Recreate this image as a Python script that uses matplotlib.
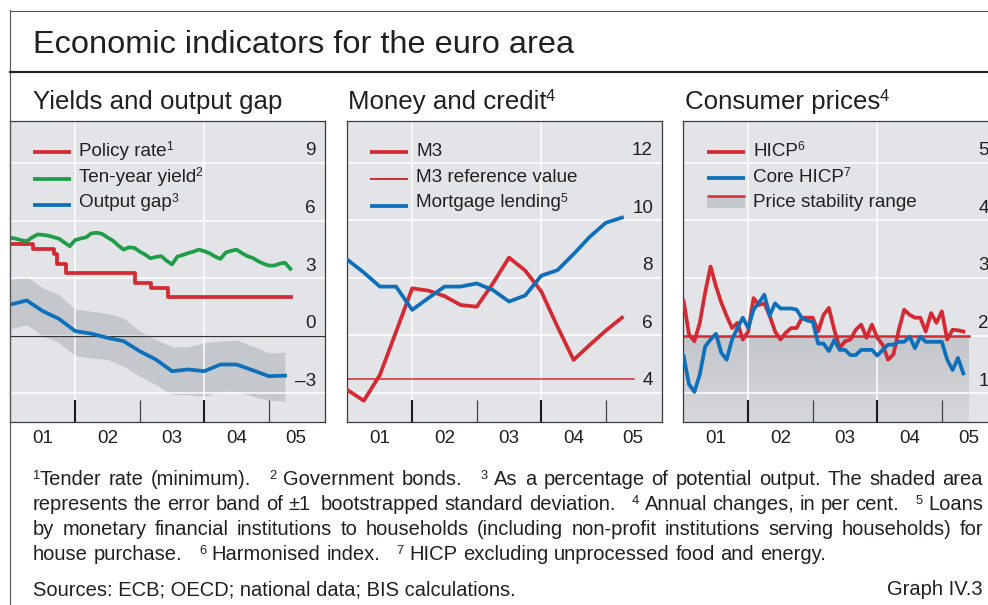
import re
import numpy as np
import matplotlib
matplotlib.use('Agg')
import matplotlib.pyplot as plt
from matplotlib.lines import Line2D
from matplotlib.patches import Rectangle
from matplotlib.colors import LinearSegmentedColormap

plt.rcParams['font.family'] = ['Liberation Sans', 'DejaVu Sans']

# ---------------- data ----------------
year_labels = ['01', '02', '03', '04', '05']
year_label_pos = [2001.5, 2002.5, 2003.5, 2004.5, 2005.42]
year_ticks = [2002, 2003, 2004, 2005]

# Panel 1: Yields and output gap
policy_dates = [2001.0, 2001.35, 2001.67, 2001.72, 2001.86, 2002.93, 2003.18, 2003.43, 2005.35]
policy_rates = [4.75, 4.50, 4.25, 3.75, 3.25, 2.75, 2.50, 2.00, 2.00]

months = 2001 + np.arange(53) / 12.0
ten_year_yield = [5.10, 5.05, 4.97, 4.92, 5.12, 5.27, 5.25, 5.21, 5.13, 5.05, 4.85, 4.66,
                  4.98, 5.06, 5.12, 5.33, 5.36, 5.30, 5.12, 4.95, 4.70, 4.48, 4.60, 4.57,
                  4.38, 4.22, 4.03, 4.10, 4.14, 3.90, 3.71, 4.12, 4.20, 4.30, 4.38, 4.48,
                  4.40, 4.29, 4.12, 4.00, 4.33, 4.42, 4.48, 4.30, 4.14, 4.05, 3.88, 3.75,
                  3.65, 3.65, 3.75, 3.80, 3.48]

quarters = 2001 + np.arange(18) / 4.0
output_gap = [1.62, 1.83, 1.27, 0.87, 0.23, 0.10, -0.12, -0.29, -0.82, -1.25, -1.86, -1.77,
              -1.86, -1.51, -1.51, -1.81, -2.12, -2.09]
gap_upper = [2.92, 3.09, 2.48, 2.13, 1.38, 1.27, 1.15, 0.92, 0.23, -0.21, -0.59, -0.59,
             -0.38, -0.29, -0.24, -0.56, -0.90, -0.87]
gap_lower = [0.35, 0.57, -0.03, -0.38, -1.04, -1.17, -1.25, -1.60, -2.12, -2.56, -3.08, -3.08,
             -3.17, -2.91, -2.91, -3.17, -3.38, -3.43]

# Panel 2: Money and credit
m3_growth = [4.10, 3.73, 4.63, 6.13, 7.64, 7.56, 7.37, 7.06, 7.00, 7.81, 8.71, 8.26,
             7.53, 6.31, 5.15, 5.67, 6.17, 6.62]
mortgage_lending = [8.63, 8.19, 7.70, 7.70, 6.89, 7.30, 7.70, 7.70, 7.81, 7.58, 7.18, 7.39,
                    8.08, 8.27, 8.83, 9.43, 9.92, 10.10]
m3_reference_value = 4.5
m3_reference_span = [2001.0, 2005.43]

# Panel 3: Consumer prices
hicp = [2.60, 2.02, 1.90, 2.22, 2.75, 3.20, 2.86, 2.57, 2.34, 2.13, 2.22, 1.93,
        2.07, 2.65, 2.53, 2.56, 2.34, 2.07, 1.93, 2.05, 2.13, 2.13, 2.31, 2.31,
        2.31, 2.07, 2.36, 2.48, 2.10, 1.78, 1.90, 1.93, 2.10, 2.19, 1.96, 2.19,
        1.96, 1.84, 1.58, 1.67, 2.10, 2.45, 2.36, 2.31, 2.31, 2.07, 2.39, 2.22,
        2.42, 1.93, 2.10, 2.09, 2.07]
core_hicp = [1.64, 1.15, 1.02, 1.32, 1.81, 1.93, 2.03, 1.70, 1.58, 1.93, 2.13, 2.31,
             2.13, 2.45, 2.57, 2.71, 2.35, 2.56, 2.47, 2.47, 2.47, 2.45, 2.30, 2.26,
             2.24, 1.86, 1.86, 1.73, 1.92, 1.75, 1.75, 1.66, 1.66, 1.75, 1.75, 1.75,
             1.65, 1.75, 1.84, 1.84, 1.89, 1.89, 1.98, 1.78, 1.98, 1.89, 1.89, 1.89,
             1.89, 1.58, 1.40, 1.61, 1.34]
price_stability_ceiling = 2.0
price_stability_span = [2000.9, 2005.42]

p1_ticks = [9, 6, 3, 0, -3]
p1_ticklabels = ['9', '6', '3', '0', '\u20133']
p2_ticks = [12, 10, 8, 6, 4]
p3_ticks = [5, 4, 3, 2, 1]

title = 'Economic indicators for the euro area'
panel_titles = ['Yields and output gap', 'Money and credit\u2074', 'Consumer prices\u2074']
legend1 = ['Policy rate\u00b9', 'Ten-year yield\u00b2', 'Output gap\u00b3']
legend2 = ['M3', 'M3 reference value', 'Mortgage lending\u2075']
legend3 = ['HICP\u2076', 'Core HICP\u2077', 'Price stability range']
footnotes = [
    '\u00b9Tender rate (minimum).   \u00b2 Government bonds.   \u00b3 As a percentage of potential output. The shaded area',
    'represents the error band of \u00b11  bootstrapped standard deviation.   \u2074 Annual changes, in per cent.   \u2075 Loans',
    'by monetary financial institutions to households (including non-profit institutions serving households) for',
    'house purchase.   \u2076 Harmonised index.   \u2077 HICP excluding unprocessed food and energy.',
]
sources = 'Sources: ECB; OECD; national data; BIS calculations.'
graph_id = 'Graph IV.3'

# ---------------- style ----------------
W, H = 988, 605
RED = '#d42a33'
GREEN = '#1f9d49'
BLUE = '#0e6fba'
BG = '#e3e4e7'
BAND = '#c4c7cc'
TXT = '#231f20'
FRAME = '#3a3a3a'
LW = 2.7
SUP = {'\u00b9': '1', '\u00b2': '2', '\u00b3': '3', '\u2074': '4',
       '\u2075': '5', '\u2076': '6', '\u2077': '7'}
SUP_SCALE = 0.64
SUP_GAP = -0.5

fig = plt.figure(figsize=(W / 100, H / 100), dpi=100)
fig.patch.set_facecolor('white')
renderer = fig.canvas.get_renderer()


def fx(px):
    return px / W


def fy(py):
    return 1 - py / H


def text_width(s, size):
    t = fig.text(0, 0, s, fontsize=size)
    w = t.get_window_extent(renderer).width
    t.remove()
    return w


def runs(s):
    out = []
    for ch in s:
        sup = ch in SUP
        c = SUP.get(ch, ch)
        if out and out[-1][1] == sup:
            out[-1][0] += c
        else:
            out.append([c, sup])
    return out


def rich_width(s, size):
    w = 0
    rs = runs(s)
    for i, (t, sup) in enumerate(rs):
        w += text_width(t, size * SUP_SCALE if sup else size)
        if i < len(rs) - 1:
            w += SUP_GAP
    return w


def draw_rich(x, yb, s, size, ha='left'):
    if ha == 'right':
        x -= rich_width(s, size)
    rs = runs(s)
    for i, (t, sup) in enumerate(rs):
        sz = size * SUP_SCALE if sup else size
        raise_px = 0.29 * size * 100 / 72 if sup else 0
        fig.text(fx(x), fy(yb - raise_px), t, fontsize=sz, color=TXT, va='baseline', ha='left')
        x += text_width(t, sz)
        if i < len(rs) - 1:
            x += SUP_GAP


def fit_size(s, target, ref=20.0):
    return ref * target / rich_width(s, ref)


XLIM = (2000.99, 2005.87)
AX_TOP, AX_BOT, AX_W = 121, 422, 315


def make_ax(left, ylim, ticks, labels, tick_size):
    ax = fig.add_axes([fx(left), fy(AX_BOT), AX_W / W, (AX_BOT - AX_TOP) / H])
    ax.set_facecolor(BG)
    ax.set_xlim(*XLIM)
    ax.set_ylim(*ylim)
    ax.set_xticks([])
    ax.set_yticks([])
    for s in ax.spines.values():
        s.set_color(FRAME)
        s.set_linewidth(0.9)
    for v in ticks:
        ax.axhline(v, color='white', lw=1.1, zorder=1)
    for yr in (2002, 2004):
        ax.axvline(yr, color='white', lw=1.1, zorder=1)
    tr = ax.get_xaxis_transform()
    for yr in year_ticks:
        thick = yr in (2002, 2004)
        ax.plot([yr, yr], [0, 22 / (AX_BOT - AX_TOP)], transform=tr,
                color='#1a1a1a' if thick else '#444444', lw=1.5 if thick else 0.9,
                solid_capstyle='butt', zorder=3)
    for v, lab in zip(ticks, labels):
        ax.annotate(lab, xy=(1, v), xycoords=('axes fraction', 'data'),
                    xytext=(-9, 7.5), textcoords='offset pixels', ha='right',
                    va='baseline', fontsize=tick_size, color=TXT, zorder=5)
    for pos, lab in zip(year_label_pos, year_labels):
        ax.annotate(lab, xy=(pos, 0), xycoords=('data', 'axes fraction'),
                    xytext=(0, -21), textcoords='offset pixels', ha='center',
                    va='baseline', fontsize=tick_size, color=TXT,
                    annotation_clip=False)
    return ax


LEG_SIZE = 20.0 * 88 / text_width('Policy rate', 20.0)
FOOT_SIZE = 0.5 * (20.0 * 467 / text_width(sources, 20.0) + fit_size(footnotes[2], 950))
TITLE_SIZE = 20.0 * 539 / text_width(title, 20.0)
PT_SIZE = 20.0 * 249 / text_width(panel_titles[0], 20.0)

# ---------- frame ----------
fig.add_artist(Line2D([fx(10), fx(10)], [fy(10), 0], color='#555555', lw=0.8))
fig.add_artist(Line2D([fx(10), 1], [fy(10.5), fy(10.5)], color='#555555', lw=0.8))
fig.add_artist(Line2D([fx(10), 1], [fy(72), fy(72)], color='#222222', lw=1.5))
fig.text(fx(33), fy(53), title, fontsize=TITLE_SIZE, color=TXT, va='baseline')
for px, t in zip([33, 348, 685], panel_titles):
    draw_rich(px, 109, t, PT_SIZE)

# ---------- panel 1 ----------
ax1 = make_ax(10, (-4.51, 11.19), p1_ticks, p1_ticklabels, LEG_SIZE)
ax1.axhline(0, color='#333333', lw=0.9, zorder=1.5)
ax1.fill_between(quarters, gap_lower, gap_upper, color=BAND, lw=0, zorder=0.5)
ax1.step(policy_dates, policy_rates, where='post', color=RED, lw=LW, zorder=3)
ax1.plot(months, ten_year_yield, color=GREEN, lw=LW, zorder=3)
ax1.plot(quarters, output_gap, color=BLUE, lw=LW, zorder=3)

# ---------- panel 2 ----------
ax2 = make_ax(347, (2.99, 13.46), p2_ticks, [str(v) for v in p2_ticks], LEG_SIZE)
ax2.plot(m3_reference_span, [m3_reference_value] * 2, color=RED, lw=1.1, zorder=2.5)
ax2.plot(quarters, m3_growth, color=RED, lw=LW, zorder=3)
ax2.plot(quarters, mortgage_lending, color=BLUE, lw=LW, zorder=3)

# ---------- panel 3 ----------
ax3 = make_ax(683, (0.496, 5.73), p3_ticks, [str(v) for v in p3_ticks], LEG_SIZE)
grad = LinearSegmentedColormap.from_list('g', ['#d6d7da', '#c3c6cb'])
ax3.imshow(np.linspace(0, 1, 100).reshape(-1, 1), cmap=grad, aspect='auto', origin='lower',
           extent=[price_stability_span[0], price_stability_span[1], 0.496, price_stability_ceiling],
           zorder=0.5)
ax3.set_xlim(*XLIM)
ax3.set_ylim(0.496, 5.73)
ax3.plot(price_stability_span, [price_stability_ceiling] * 2, color=RED, lw=1.8, zorder=2.5)
ax3.plot(months, hicp, color=RED, lw=LW, zorder=3)
ax3.plot(months, core_hicp, color=BLUE, lw=LW, zorder=3.1)


# ---------- legends ----------
def legend(x0, x1, xt, items):
    for (ly, ty, lab, col, lw) in items:
        fig.add_artist(Line2D([fx(x0), fx(x1)], [fy(ly), fy(ly)], color=col, lw=lw,
                              solid_capstyle='butt'))
        draw_rich(xt, ty, lab, LEG_SIZE)


legend(33, 71, 79, [(152.3, 155.5, legend1[0], RED, LW),
                    (178.5, 181.5, legend1[1], GREEN, LW),
                    (205, 207, legend1[2], BLUE, LW)])
legend(370, 408, 416, [(152.3, 155.5, legend2[0], RED, LW),
                       (179, 181.5, legend2[1], RED, 1.4),
                       (205.7, 207, legend2[2], BLUE, LW)])
fig.add_artist(Rectangle((fx(707), fy(207.5)), 38 / W, 11.5 / H, transform=fig.transFigure,
                         facecolor=BAND, edgecolor='none'))
legend(707, 745, 753, [(151.7, 155.5, legend3[0], RED, LW),
                       (178.3, 181.5, legend3[1], BLUE, LW),
                       (195.5, 207, legend3[2], RED, 1.8)])


# ---------- footnotes ----------
def draw_line(line, x0, x1, yb, size, justify):
    parts = re.split(r'( +)', line)
    words = parts[0::2]
    gaps = parts[1::2]
    widths = [rich_width(w, size) for w in words]
    space = text_width('a a', size) - text_width('aa', size)
    natural = sum(widths) + sum(len(g) for g in gaps) * space
    extra = (x1 - x0 - natural) / len(gaps) if (justify and gaps) else 0
    x = x0
    for i, w in enumerate(words):
        draw_rich(x, yb, w, size)
        x += widths[i]
        if i < len(gaps):
            x += len(gaps[i]) * space + extra


for i, line in enumerate(footnotes):
    draw_line(line, 33, 983, 485 + 25 * i, FOOT_SIZE, justify=(i < 3))

fig.text(fx(33), fy(595), sources, fontsize=FOOT_SIZE, color=TXT, va='baseline')
fig.text(fx(983), fy(595), graph_id, fontsize=FOOT_SIZE, color=TXT, va='baseline', ha='right')

fig.savefig('out.png', dpi=100, facecolor='white')
